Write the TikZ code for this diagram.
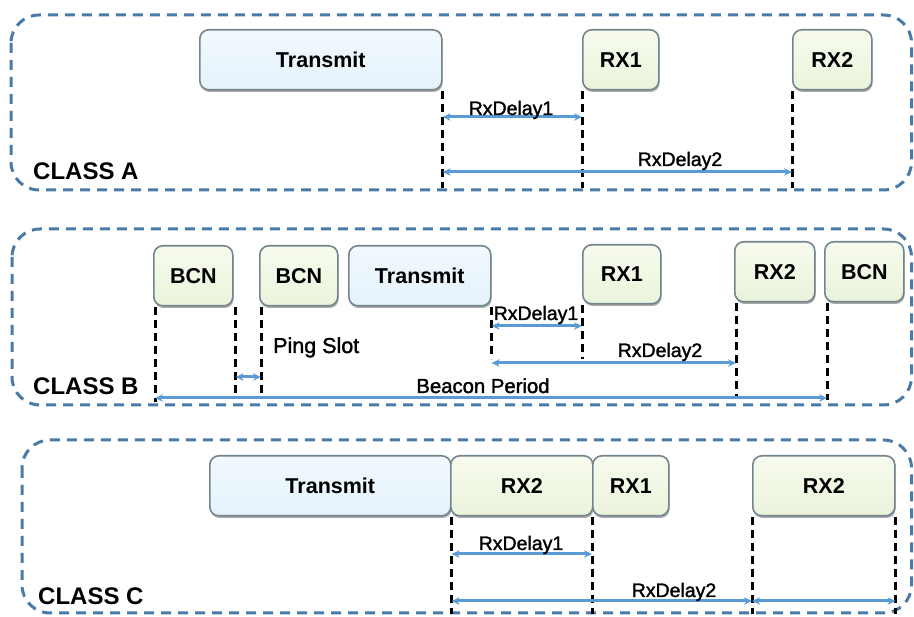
\documentclass[tikz,border=0pt]{standalone}
\usepackage{fontspec}
\setmainfont{Liberation Sans}
\newfontfamily\medfont{Liberation Sans}[FakeBold=1.6]
\usetikzlibrary{arrows.meta,shadows}
\definecolor{panelc}{HTML}{4A7AA6}
\definecolor{arrc}{HTML}{5B9BD5}
\definecolor{boxline}{HTML}{73858F}
\definecolor{txtop}{HTML}{F2F9FE}
\definecolor{txbot}{HTML}{E4F2FB}
\definecolor{rxtop}{HTML}{F7FBEE}
\definecolor{rxbot}{HTML}{EAF3DA}
\tikzset{
 panel/.style={draw=panelc, line width=3pt, dash pattern=on 10pt off 7pt, rounded corners=28pt},
 slot/.style={draw=boxline, line width=1.6pt, rounded corners=9pt, minimum height=60pt, anchor=north west, inner sep=0pt,
   font=\fontsize{21.5}{24}\selectfont\bfseries,
   drop shadow={shadow xshift=0.8pt, shadow yshift=-2.2pt, fill=black!55, opacity=0.6}},
 txbox/.style={slot, top color=txtop, bottom color=txbot},
 rxbox/.style={slot, top color=rxtop, bottom color=rxbot},
 guide/.style={draw=black, line width=3pt, dash pattern=on 8pt off 5pt},
 span/.style={draw=arrc, line width=3pt, {Stealth[length=8pt,width=7.5pt]}-{Stealth[length=8pt,width=7.5pt]}},
 spanlbl/.style={font=\medfont\fontsize{19.5}{22}\selectfont, inner sep=0pt, anchor=base},
 classlbl/.style={font=\fontsize{24}{26}\selectfont\bfseries, anchor=base west, inner sep=0pt},
}
\begin{document}
\begin{tikzpicture}[x=1pt,y=-1pt]
\useasboundingbox (0,0) rectangle (914,617);
% ---------- panels
\draw[panel] (11,15) rectangle (911.5,190);
\draw[panel] (12,229) rectangle (911.5,405);
\draw[panel] (22,440) rectangle (911.5,613);

% ---------- CLASS A
\node[txbox, minimum width=242pt] (tA) at (199,29) {Transmit};
\node[rxbox, minimum width=76pt] (rA1) at (582,29) {RX1};
\node[rxbox, minimum width=79pt] (rA2) at (792,29) {RX2};
\draw[guide] (tA.south east) -- ++(0,97);
\draw[guide] (rA1.south west) -- ++(0,97);
\draw[guide] (rA2.south west) -- ++(0,97);
\coordinate (yA1) at (0,117);
\coordinate (yA2) at (0,172);
\draw[span] (tA.south east |- yA1) -- (rA1.south west |- yA1);
\draw[span] (tA.south east |- yA2) -- (rA2.south west |- yA2);
\node[spanlbl] (lA1) at (511,115) {RxDelay1};
\node[spanlbl] (lA2) at (680,166) {RxDelay2};
\node[classlbl] (cA) at (33,180) {CLASS A};

% ---------- CLASS B
\node[rxbox, minimum width=79pt] (bB1) at (153,245) {BCN};
\node[rxbox, minimum width=78pt] (bB2) at (259,245) {BCN};
\node[txbox, minimum width=142pt] (tB) at (348,245) {Transmit};
\node[rxbox, minimum width=78pt, minimum height=59pt] (rB1) at (582,244) {RX1};
\node[rxbox, minimum width=80pt] (rB2) at (734,241) {RX2};
\node[rxbox, minimum width=79pt] (bB3) at (824,241) {BCN};
\draw[guide] (bB1.south west) ++(2,0) -- ++(0,95);
\draw[guide] (bB1.south east) ++(2,0) -- ++(0,88);
\draw[guide] (bB2.south west) ++(2,0) -- ++(0,88);
\draw[guide] (tB.south east) -- ++(0,52);
\draw[guide] (rB1.south west) -- ++(0,54);
\draw[guide] (rB2.south west) ++(2,0) -- ++(0,95);
\draw[guide] (bB3.south west) ++(3,0) -- ++(0,97);
\coordinate (yB1) at (0,326);
\coordinate (yB2) at (0,363);
\coordinate (yBp) at (0,377);
\coordinate (yB3) at (0,398);
\draw[span] ([xshift=2pt]bB1.south east |- yBp) -- ([xshift=2pt]bB2.south west |- yBp);
\draw[span] (tB.south east |- yB1) -- (rB1.south west |- yB1);
\draw[span] (tB.south east |- yB2) -- ([xshift=2pt]rB2.south west |- yB2);
\draw[span] ([xshift=2pt]bB1.south west |- yB3) -- ([xshift=3pt]bB3.south west |- yB3);
\node[spanlbl, anchor=base west, font=\medfont\fontsize{21.5}{24}\selectfont] (ping) at (273,353) {Ping Slot};
\node[spanlbl] (lB1) at (536,320) {RxDelay1};
\node[spanlbl] (lB2) at (660,357) {RxDelay2};
\node[spanlbl, font=\medfont\fontsize{20.3}{22}\selectfont] (lB3) at (483,393) {Beacon Period};
\node[classlbl] (cB) at (33,395) {CLASS B};

% ---------- CLASS C
\node[txbox, minimum width=241pt] (tC) at (209,455) {Transmit};
\node[rxbox, minimum width=142pt] (rC1) at (450,455) {RX2};
\node[rxbox, minimum width=76pt] (rC2) at (592,455) {RX1};
\node[rxbox, minimum width=142pt] (rC3) at (752,455) {RX2};
\draw[guide] (tC.south east) -- ++(0,97);
\draw[guide] (rC2.south west) -- ++(0,97);
\draw[guide] (rC3.south west) -- ++(0,97);
\draw[guide] (rC3.south east) -- ++(0,97);
\coordinate (yC1) at (0,554);
\coordinate (yC2) at (0,601);
\draw[span] (tC.south east |- yC1) -- (rC2.south west |- yC1);
\draw[span] (tC.south east |- yC2) -- (rC3.south west |- yC2);
\draw[span] (rC3.south west |- yC2) -- (rC3.south east |- yC2);
\node[spanlbl] (lC1) at (521,550) {RxDelay1};
\node[spanlbl] (lC2) at (674,597) {RxDelay2};
\node[classlbl] (cC) at (38,605) {CLASS C};
\end{tikzpicture}
\end{document}
